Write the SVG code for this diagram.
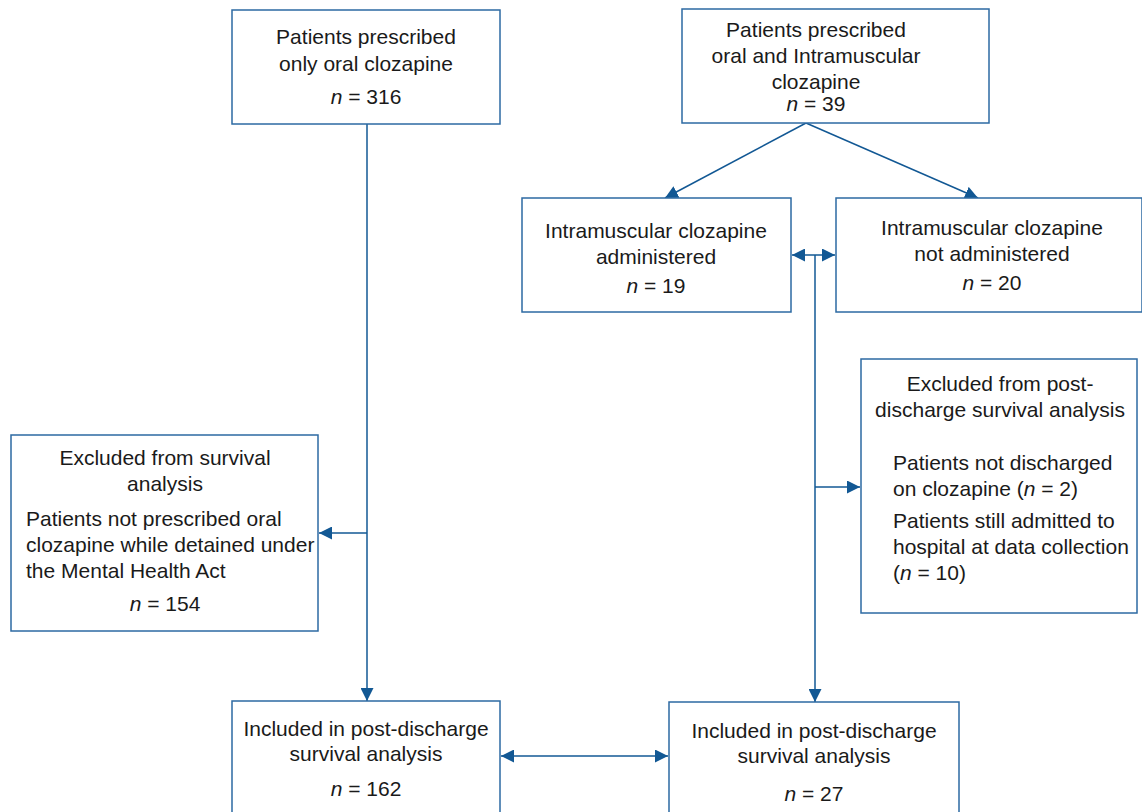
<svg xmlns="http://www.w3.org/2000/svg" width="1142" height="812" viewBox="0 0 1142 812">
<style>
.box{fill:#fff;stroke:#2d6aa3;stroke-width:1.5}
text{font-family:"Liberation Sans",Arial,sans-serif;font-size:21px;fill:#1a1a1a}
.c{text-anchor:middle}
.i{font-style:italic}
.ln{fill:none;stroke:#125894;stroke-width:1.5}
</style>
<defs>
<marker id="ah" viewBox="0 0 10 10" refX="10" refY="5" markerWidth="13" markerHeight="13" markerUnits="userSpaceOnUse" orient="auto-start-reverse">
<path d="M0,0 L10,5 L0,10 z" fill="#125894"/>
</marker>
</defs>
<rect width="1142" height="812" fill="#fff"/>
<g id="connectors">
<line class="ln" x1="367" y1="124" x2="367" y2="701" marker-end="url(#ah)"/>
<line class="ln" x1="367" y1="533" x2="319" y2="533" marker-end="url(#ah)"/>
<line class="ln" x1="806" y1="123" x2="665" y2="198" marker-end="url(#ah)"/>
<line class="ln" x1="806" y1="123" x2="978" y2="198" marker-end="url(#ah)"/>
<line class="ln" x1="792" y1="255" x2="835" y2="255" marker-start="url(#ah)" marker-end="url(#ah)"/>
<line class="ln" x1="815" y1="255" x2="815" y2="702" marker-end="url(#ah)"/>
<line class="ln" x1="815" y1="487" x2="860" y2="487" marker-end="url(#ah)"/>
<line class="ln" x1="501" y1="756" x2="668" y2="756" marker-start="url(#ah)" marker-end="url(#ah)"/>
</g>
<g id="n1">
<rect class="box" x="232" y="10" width="268" height="114"/>
<text class="c" x="366" y="44">Patients prescribed</text>
<text class="c" x="366" y="71">only oral clozapine</text>
<text class="c" x="366" y="104"><tspan class="i">n</tspan> = 316</text>
</g>
<g id="n2">
<rect class="box" x="682" y="9" width="307" height="114"/>
<text class="c" x="816" y="37">Patients prescribed</text>
<text class="c" x="816" y="63">oral and Intramuscular</text>
<text class="c" x="816" y="89">clozapine</text>
<text class="c" x="816" y="111"><tspan class="i">n</tspan> = 39</text>
</g>
<g id="n3">
<rect class="box" x="522" y="198" width="269" height="114"/>
<text class="c" x="656" y="238">Intramuscular clozapine</text>
<text class="c" x="656" y="264">administered</text>
<text class="c" x="656" y="293"><tspan class="i">n</tspan> = 19</text>
</g>
<g id="n4">
<rect class="box" x="836" y="198" width="306" height="114"/>
<text class="c" x="992" y="235">Intramuscular clozapine</text>
<text class="c" x="992" y="261">not administered</text>
<text class="c" x="992" y="290"><tspan class="i">n</tspan> = 20</text>
</g>
<g id="n5">
<rect class="box" x="11" y="435" width="307" height="196"/>
<text class="c" x="165" y="465">Excluded from survival</text>
<text class="c" x="165" y="491">analysis</text>
<text x="26" y="526">Patients not prescribed oral</text>
<text x="26" y="552">clozapine while detained under</text>
<text x="26" y="578">the Mental Health Act</text>
<text class="c" x="165" y="611"><tspan class="i">n</tspan> = 154</text>
</g>
<g id="n6">
<rect class="box" x="861" y="359" width="276" height="254"/>
<text class="c" x="1000" y="391">Excluded from post-</text>
<text class="c" x="1000" y="417">discharge survival analysis</text>
<text x="893" y="470">Patients not discharged</text>
<text x="893" y="496">on clozapine (<tspan class="i">n</tspan> = 2)</text>
<text x="893" y="528">Patients still admitted to</text>
<text x="893" y="554">hospital at data collection</text>
<text x="893" y="580">(<tspan class="i">n</tspan> = 10)</text>
</g>
<g id="n7">
<rect class="box" x="232" y="701" width="268" height="130"/>
<text class="c" x="366" y="736">Included in post-discharge</text>
<text class="c" x="366" y="761">survival analysis</text>
<text class="c" x="366" y="796"><tspan class="i">n</tspan> = 162</text>
</g>
<g id="n8">
<rect class="box" x="669" y="702" width="290" height="130"/>
<text class="c" x="814" y="738">Included in post-discharge</text>
<text class="c" x="814" y="763">survival analysis</text>
<text class="c" x="814" y="801"><tspan class="i">n</tspan> = 27</text>
</g>
</svg>
